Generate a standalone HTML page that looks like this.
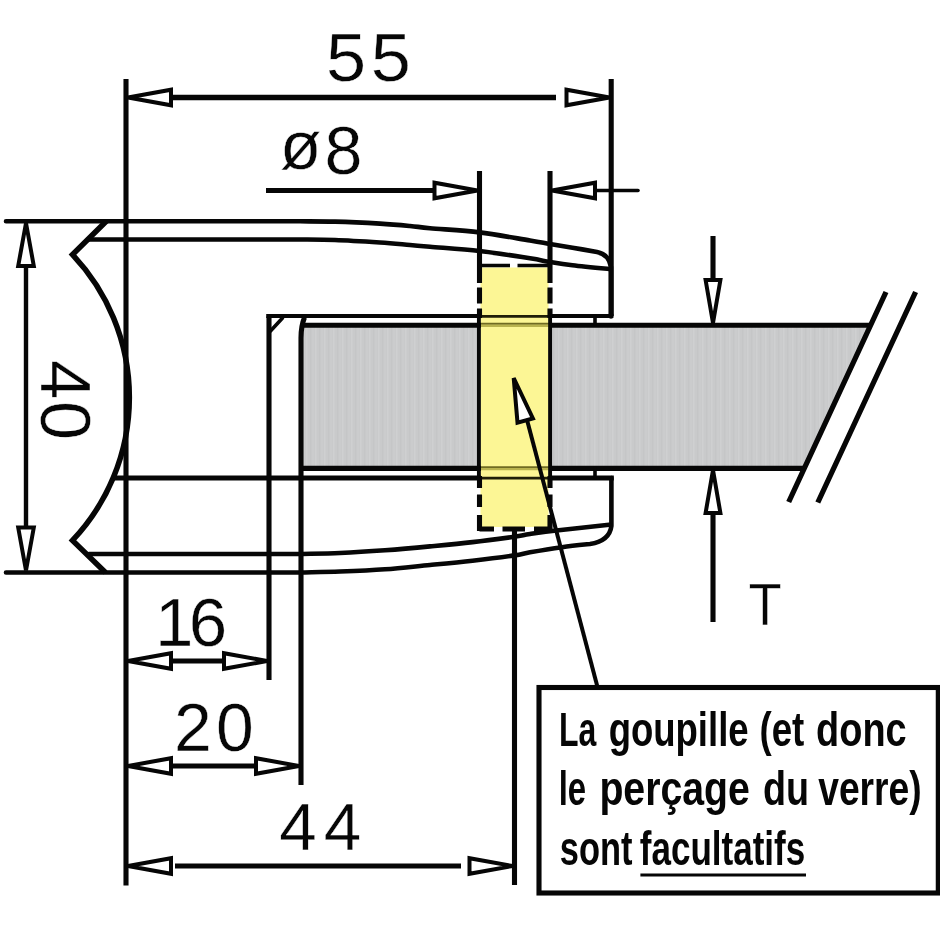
<!DOCTYPE html>
<html lang="fr"><head><meta charset="utf-8"><title>Pince à verre - dimensions</title>
<style>
html,body{margin:0;padding:0;background:#fff;}
body{width:940px;height:940px;overflow:hidden;}
svg{display:block;will-change:transform;}
.l{fill:none;stroke:#060606;stroke-width:5.1;stroke-linecap:butt;stroke-linejoin:miter;}
.lr{fill:none;stroke:#060606;stroke-width:4.6;stroke-linecap:round;stroke-linejoin:round;}
.t{fill:none;stroke:#060606;stroke-width:3.6;stroke-linecap:round;}
.ah{fill:#fff;stroke:#060606;stroke-width:4;stroke-linejoin:miter;}
.dim{font-family:"Liberation Sans",Arial,sans-serif;font-size:66px;fill:#060606;stroke:#fff;stroke-width:0.4px;paint-order:fill stroke;}
.note{font-family:"Liberation Sans",Arial,sans-serif;font-size:48px;font-weight:bold;fill:#060606;}
</style></head><body>
<svg width="940" height="940" viewBox="0 0 940 940">
<defs>
<pattern id="gl" width="9" height="10" patternUnits="userSpaceOnUse">
<rect width="9" height="10" fill="#c9cacb"/>
<rect x="0" width="1.5" height="10" fill="#cfd0d1"/>
<rect x="4" width="1.2" height="10" fill="#c5c6c7"/>
<rect x="6.5" width="1" height="10" fill="#cdcecf"/>
</pattern>
</defs>
<rect width="940" height="940" fill="#fff"/>

<path d="M303,326 L870.2,326 L805.2,466.5 L303,466.5 Z" fill="url(#gl)"/>
<rect x="480.5" y="267.5" width="68" height="259.5" fill="#fcf695"/>
<path d="M481,316.3 H549 M481,478.2 H549" stroke="#1f1e08" stroke-width="2.8" fill="none"/>
<path d="M481,323.8 H549 M481,467.2 H549" stroke="#6f6b22" stroke-width="2" fill="none"/><path d="M481,325.8 H549 M481,469.2 H549" stroke="#b9b34e" stroke-width="2.2" fill="none"/>
<path class="lr" d="M6,221.3 L300,221.3  C305.8,221.4 321.7,221.2 335.0,221.6 C348.3,222.0 367.5,222.9 380.0,223.6 C392.5,224.3 401.7,225.2 410.0,226.0 C418.3,226.8 418.4,227.1 430.0,228.2 C441.6,229.3 462.8,230.3 479.5,232.4 C496.2,234.5 518.2,238.6 530.0,240.5 C541.8,242.4 542.9,242.8 550.0,244.0 C557.1,245.2 564.7,246.4 572.5,247.7 C580.3,249.0 592.9,251.3 597.0,252.0 Q609,254.5 611,267 L611,316.5"/>
<path class="lr" d="M88,239.5 L300,239.5  C305.8,239.6 321.7,239.5 335.0,240.0 C348.3,240.5 367.5,241.7 380.0,242.5 C392.5,243.3 401.7,244.3 410.0,245.0 C418.3,245.7 418.4,245.8 430.0,246.8 C441.6,247.8 462.8,249.1 479.5,251.0 C496.2,252.9 518.2,256.5 530.0,258.3 C541.8,260.1 542.9,260.9 550.0,262.0 C557.1,263.1 562.7,264.0 572.5,265.2 C582.3,266.4 602.9,268.4 609.0,269.0"/>
<path class="l" style="stroke-linejoin:miter;stroke-width:5.5" d="M106.5,221 L72.5,254.6 A208,208 0 0 1 72.5,540.4 L105.5,572.5"/>
<path class="lr" d="M6,572.5 L301,572.5  C307.5,572.3 326.0,572.0 340.0,571.5 C354.0,571.0 370.0,570.4 385.0,569.3 C400.0,568.2 415.4,566.4 430.0,565.0 C444.6,563.6 458.5,562.3 472.5,560.7 C486.5,559.1 504.4,556.8 514.0,555.4 C523.6,554.0 522.0,553.7 530.0,552.3 C538.0,550.9 552.0,548.6 562.0,547.2 C572.0,545.8 585.3,544.5 590.0,544.0 Q609.5,541 611.4,526 L611.4,478"/>
<path class="lr" d="M89,554 L301,554  C307.5,553.8 326.0,553.6 340.0,553.0 C354.0,552.4 370.0,551.4 385.0,550.3 C400.0,549.2 415.4,547.8 430.0,546.4 C444.6,545.0 458.5,543.7 472.5,542.1 C486.5,540.5 504.4,538.1 514.0,536.8 C523.6,535.4 522.5,535.1 530.0,534.0 C537.5,532.9 545.5,531.7 558.7,530.2 C571.9,528.7 600.6,525.7 609.0,524.8"/>
<path class="l" d="M114,478 H481 M549,478 H613.8"/>
<path class="l" style="stroke-width:4" d="M266.2,316 H481 M549,316 H613.4"/>
<path class="l" d="M303,325.2 H481 M549,325.2 H869"/>
<path class="l" d="M301,468.4 H481 M549,468.4 H803"/>
<path class="l" d="M269,316.5 V680"/>
<path class="l" d="M301,785 V338 Q301,326 304.5,317.5"/>
<path class="t" d="M270.5,331 L282.5,318"/>
<path class="t" d="M595,317 V324 M595,468 V478"/>
<path class="l" d="M126,79 V885.5"/>
<path class="l" d="M611.2,79 V316"/>
<path class="l" d="M514.5,530 V885"/>
<path class="l" d="M479.5,171 V283 M479.5,287.6 V303.6 M479.5,308.4 V318 M479.5,476 V488 M479.5,494.5 V507 M479.5,515 V531"/>
<path class="l" style="stroke-width:3.9" d="M478.9,317 V477"/>
<path class="l" d="M550,171 V283 M550,287.6 V303.6 M550,308.4 V318 M550,476 V488 M550,494.5 V507 M550,515 V531"/>
<path class="l" style="stroke-width:3.9" d="M550.1,317 V477"/>
<path class="l" style="stroke-width:3.6" d="M481,265.5 H510 M517.5,265.5 H549"/>
<path class="l" d="M479.5,529 H494 M502.5,529 H525 M534,529 H550"/>
<path class="l" style="stroke-width:5.4" d="M172,97.5 H556"/>
<path class="ah" d="M128.0,97.5 L171.0,105.3 L171.0,89.7 Z"/>
<path class="ah" d="M609.5,97.5 L566.5,89.7 L566.5,105.3 Z"/>
<path class="l" d="M266,190.5 H436"/>
<path class="ah" d="M477.5,190.5 L434.5,182.7 L434.5,198.3 Z"/>
<path class="t" d="M596,190.5 H638"/>
<path class="ah" d="M552.0,190.5 L595.0,198.3 L595.0,182.7 Z"/>
<path class="l" style="stroke-width:4.4" d="M26,266 V528"/>
<path class="ah" d="M26.0,223.0 L18.2,266.0 L33.8,266.0 Z"/>
<path class="ah" d="M26.0,570.5 L33.8,527.5 L18.2,527.5 Z"/>
<path class="l" d="M171,661 H224"/>
<path class="ah" d="M128.0,661.0 L171.0,668.8 L171.0,653.2 Z"/>
<path class="ah" d="M267.0,661.0 L224.0,653.2 L224.0,668.8 Z"/>
<path class="l" d="M171,766 H256"/>
<path class="ah" d="M128.0,766.0 L171.0,773.8 L171.0,758.2 Z"/>
<path class="ah" d="M299.0,766.0 L256.0,758.2 L256.0,773.8 Z"/>
<path class="l" d="M175,866 H461"/>
<path class="ah" d="M128.0,866.0 L171.0,873.8 L171.0,858.2 Z"/>
<path class="ah" d="M512.5,866.0 L469.5,858.2 L469.5,873.8 Z"/>
<path class="l" d="M713,236 V280"/>
<path class="ah" d="M713.0,323.0 L720.4,280.0 L705.6,280.0 Z"/>
<path class="l" d="M713,513 V622"/>
<path class="ah" d="M713.0,470.0 L705.6,513.0 L720.4,513.0 Z"/>
<path class="l" style="stroke-width:5.3" d="M886,292 L788.7,502 M915.6,292 L817.8,502.5"/>
<path class="l" style="stroke-width:4" d="M527.3,421 L597.5,687"/>
<path class="ah" d="M513.7,378.0 L517.5,422.6 L532.9,418.4 Z"/>
<rect class="l" x="539" y="687.5" width="399.3" height="205.5" fill="#fff"/>
<text class="dim" style="font-size:69.4px" transform="scale(1.04,1)" x="313.4 356.6" y="81.5">55</text>
<text class="dim" style="font-size:68.2px"  x="279.8 324.5" y="169.0 174.0">ø8</text>
<text class="dim" style="font-size:69.1px"  x="155.0 188.8" y="645.5">16</text>
<text class="dim" style="font-size:67.9px"  x="173.9 216.1" y="751.2">20</text>
<text class="dim" style="font-size:67.4px"  x="279.3 323.8" y="850.2">44</text>
<text class="dim" style="font-size:70.3px" transform="translate(40.8,0) rotate(90)" x="360.2 401.1" y="0">40</text>
<text class="dim" style="font-size:58.5px;stroke-width:0.5px" transform="translate(748.4,625) scale(0.93,1)" x="0" y="0">T</text>
<text class="note" y="745.7"><tspan x="558.9" textLength="37.3" lengthAdjust="spacingAndGlyphs">La</tspan> <tspan x="608.7" textLength="139.9" lengthAdjust="spacingAndGlyphs">goupille</tspan> <tspan x="759.5" textLength="44.8" lengthAdjust="spacingAndGlyphs">(et</tspan> <tspan x="816.1" textLength="90.5" lengthAdjust="spacingAndGlyphs">donc</tspan></text>
<text class="note" y="805.3"><tspan x="558.7" textLength="27.4" lengthAdjust="spacingAndGlyphs">le</tspan> <tspan x="599.4" textLength="150.4" lengthAdjust="spacingAndGlyphs">perçage</tspan> <tspan x="763.0" textLength="46.1" lengthAdjust="spacingAndGlyphs">du</tspan> <tspan x="818.2" textLength="103.5" lengthAdjust="spacingAndGlyphs">verre)</tspan></text>
<text class="note" y="865"><tspan x="559.8" textLength="72.6" lengthAdjust="spacingAndGlyphs">sont</tspan> <tspan x="639.8" textLength="165.4" lengthAdjust="spacingAndGlyphs">facultatifs</tspan></text>
<path d="M640.4,875 H806" stroke="#060606" stroke-width="3.2" fill="none"/>
</svg></body></html>
